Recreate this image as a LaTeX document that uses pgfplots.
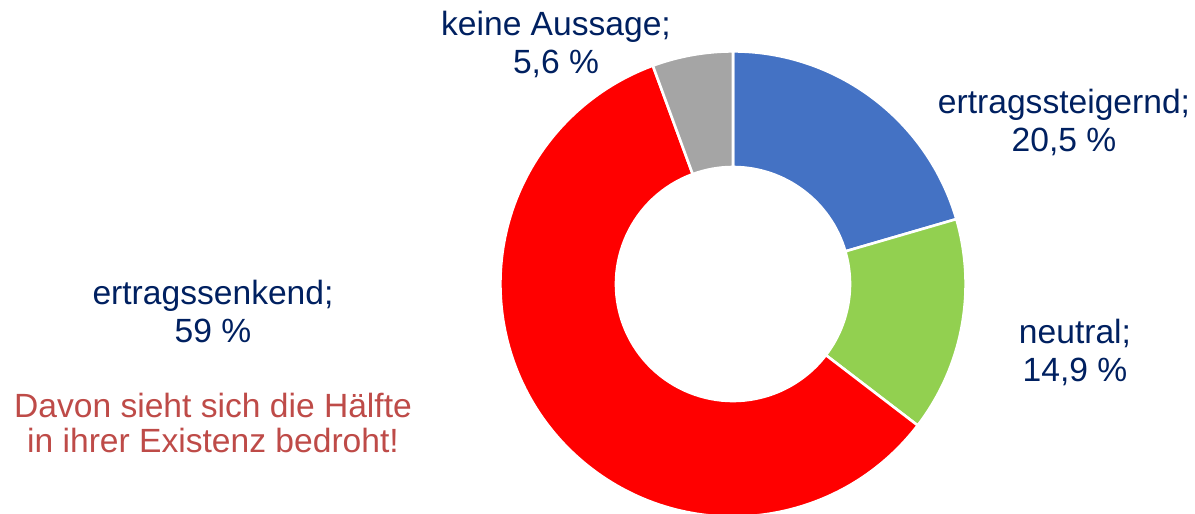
\documentclass[border=0pt]{standalone}
\usepackage{pgfplots}
\pgfplotsset{compat=1.18}
\usepackage{pgfplotstable}
\usetikzlibrary{calc}
\usepackage{fontspec}
\setmainfont{Liberation Sans}

\definecolor{clrUp}{HTML}{4472C4}
\definecolor{clrNeutral}{HTML}{92D050}
\definecolor{clrDown}{HTML}{FF0000}
\definecolor{clrNone}{HTML}{A5A5A5}
\definecolor{clrText}{HTML}{002060}
\definecolor{clrNote}{HTML}{BE4B48}

\tikzset{
  lbl/.style={align=center, inner sep=0pt, text=clrText, font=\fontsize{16.8}{19}\selectfont},
  note/.style={align=center, inner sep=0pt, text=clrNote, font=\fontsize{16.8}{17.3}\selectfont},
}

% share of answers in percent, clockwise from 12 o'clock
\pgfplotstableread{
label value
ertragssteigernd 20.5
neutral 14.9
ertragssenkend 59.0
keineAussage 5.6
}\donutdata

% one ring segment between two angles (centre in axis units = pixels)
\newcommand{\donutslice}[3]{%
  \fill[#3, draw=white, line width=1.3pt]
    ($(axis cs:733,230)+(#1:116.3pt)$) arc[start angle=#1, end angle=#2, radius=116.3pt]
    -- ($(axis cs:733,230)+(#2:58.5pt)$) arc[start angle=#2, end angle=#1, radius=58.5pt]
    -- cycle;}

\begin{document}
\begin{tikzpicture}
  \pgfplotstablegetelem{0}{value}\of\donutdata \pgfmathsetmacro{\aA}{90-3.6*\pgfplotsretval}
  \pgfplotstablegetelem{1}{value}\of\donutdata \pgfmathsetmacro{\aB}{\aA-3.6*\pgfplotsretval}
  \pgfplotstablegetelem{2}{value}\of\donutdata \pgfmathsetmacro{\aC}{\aB-3.6*\pgfplotsretval}
  \pgfplotstablegetelem{3}{value}\of\donutdata \pgfmathsetmacro{\aD}{\aC-3.6*\pgfplotsretval}
  \begin{axis}[
      scale only axis,
      width=597.5pt, height=257pt,
      xmin=0, xmax=1195, ymin=0, ymax=514,
      hide axis,
      clip=true,
    ]
    \addplot[draw=none] coordinates {(0,0) (1195,514)};

    \donutslice{90}{\aA}{clrUp}
    \donutslice{\aA}{\aB}{clrNeutral}
    \donutslice{\aB}{\aC}{clrDown}
    \donutslice{\aC}{\aD}{clrNone}

    \node[lbl] at (axis cs:556,470) {keine Aussage;\\5,6 \%};
    \node[lbl] at (axis cs:1064,392) {ertragssteigernd;\\20,5 \%};
    \node[lbl] at (axis cs:1075,162) {neutral;\\14,9 \%};
    \node[lbl] at (axis cs:213,203) {ertragssenkend;\\59 \%};
    \node[note] at (axis cs:213,91)
      {Davon sieht sich die Hälfte\\in ihrer Existenz bedroht!};
  \end{axis}
  \pgfresetboundingbox
  \path[use as bounding box] (0,0) rectangle (597.5pt,257pt);
\end{tikzpicture}
\end{document}
